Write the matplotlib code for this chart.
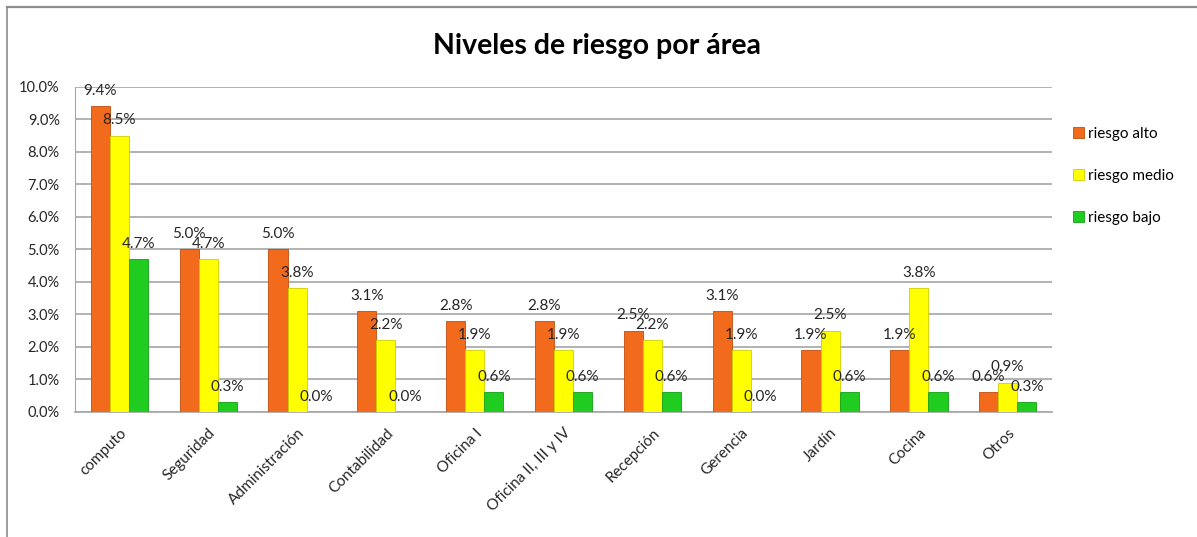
import matplotlib
matplotlib.use("Agg")
import matplotlib.pyplot as plt
import numpy as np
from matplotlib.lines import Line2D

plt.rcParams['font.family'] = ['Lato', 'DejaVu Sans']

# data (percent)
areas = ['computo', 'Seguridad', 'Administración', 'Contabilidad', 'Oficina I',
         'Oficina II, III y IV', 'Recepción', 'Gerencia', 'Jardín', 'Cocina', 'Otros']
riesgo_alto = [9.4, 5.0, 5.0, 3.1, 2.8, 2.8, 2.5, 3.1, 1.9, 1.9, 0.6]
riesgo_medio = [8.5, 4.7, 3.8, 2.2, 1.9, 1.9, 2.2, 1.9, 2.5, 3.8, 0.9]
riesgo_bajo = [4.7, 0.3, 0.0, 0.0, 0.6, 0.6, 0.6, 0.0, 0.6, 0.6, 0.3]
series_names = ['riesgo alto', 'riesgo medio', 'riesgo bajo']
colors = ['#F26A1B', '#FFFF00', '#1FCC1F']
edges = ['#C24E0E', '#CFCF00', '#12A012']
yticks = [0, 1, 2, 3, 4, 5, 6, 7, 8, 9, 10]

fig = plt.figure(figsize=(11.97, 5.37), dpi=100)
ax = fig.add_axes([0.0627, 0.2328, 0.8163, 0.6052])

x = np.arange(len(areas))
w = 0.215
for i, (vals, name) in enumerate(zip([riesgo_alto, riesgo_medio, riesgo_bajo], series_names)):
    pos = x + (i - 1) * w
    ax.bar(pos, vals, width=w, color=colors[i], edgecolor=edges[i], linewidth=0.6,
           label=name, zorder=3)
    for px, v in zip(pos, vals):
        ax.annotate(f'{v:.1f}%', (px, v), xytext=(0, 6), textcoords='offset points',
                    ha='center', va='bottom', fontsize=11, color='#262626', zorder=4)

ax.set_xlim(-0.5, len(areas) - 0.5)
ax.set_ylim(0, 10)
ax.set_yticks(yticks)
ax.set_yticklabels([f'{t:.1f}%' for t in yticks], fontsize=10.5, color='#262626')
ax.set_xticks(x)
ax.set_xticklabels(areas, rotation=45, ha='right', rotation_mode='anchor', fontsize=11,
                   color='#262626')
ax.tick_params(axis='y', length=0, pad=11)
ax.tick_params(axis='x', length=0, pad=10)
ax.grid(axis='y', color='#A6A6A6', linewidth=1.2, zorder=0)
for s in ['top', 'right']:
    ax.spines[s].set_visible(False)
ax.spines['left'].set_color('#A6A6A6')
ax.spines['bottom'].set_color('#A6A6A6')
ax.spines['bottom'].set_linewidth(1.2)

fig.text(0.499, 0.915, 'Niveles de riesgo por área', ha='center', va='center',
         fontsize=20.5, fontweight='bold', color='black')

leg = fig.legend(loc='upper left', bbox_to_anchor=(0.885, 0.79), frameon=False,
                 fontsize=11, labelspacing=1.85, handlelength=0.7, handleheight=0.7,
                 handletextpad=0.3)

# outer frame lines (top and left)
fig.add_artist(Line2D([0.006, 1.0], [0.987, 0.987], color='#8C8C8C', linewidth=1.6,
                      transform=fig.transFigure))
fig.add_artist(Line2D([0.006, 0.006], [0.0, 0.987], color='#8C8C8C', linewidth=1.2,
                      transform=fig.transFigure))

fig.savefig('out.png', dpi=100)
